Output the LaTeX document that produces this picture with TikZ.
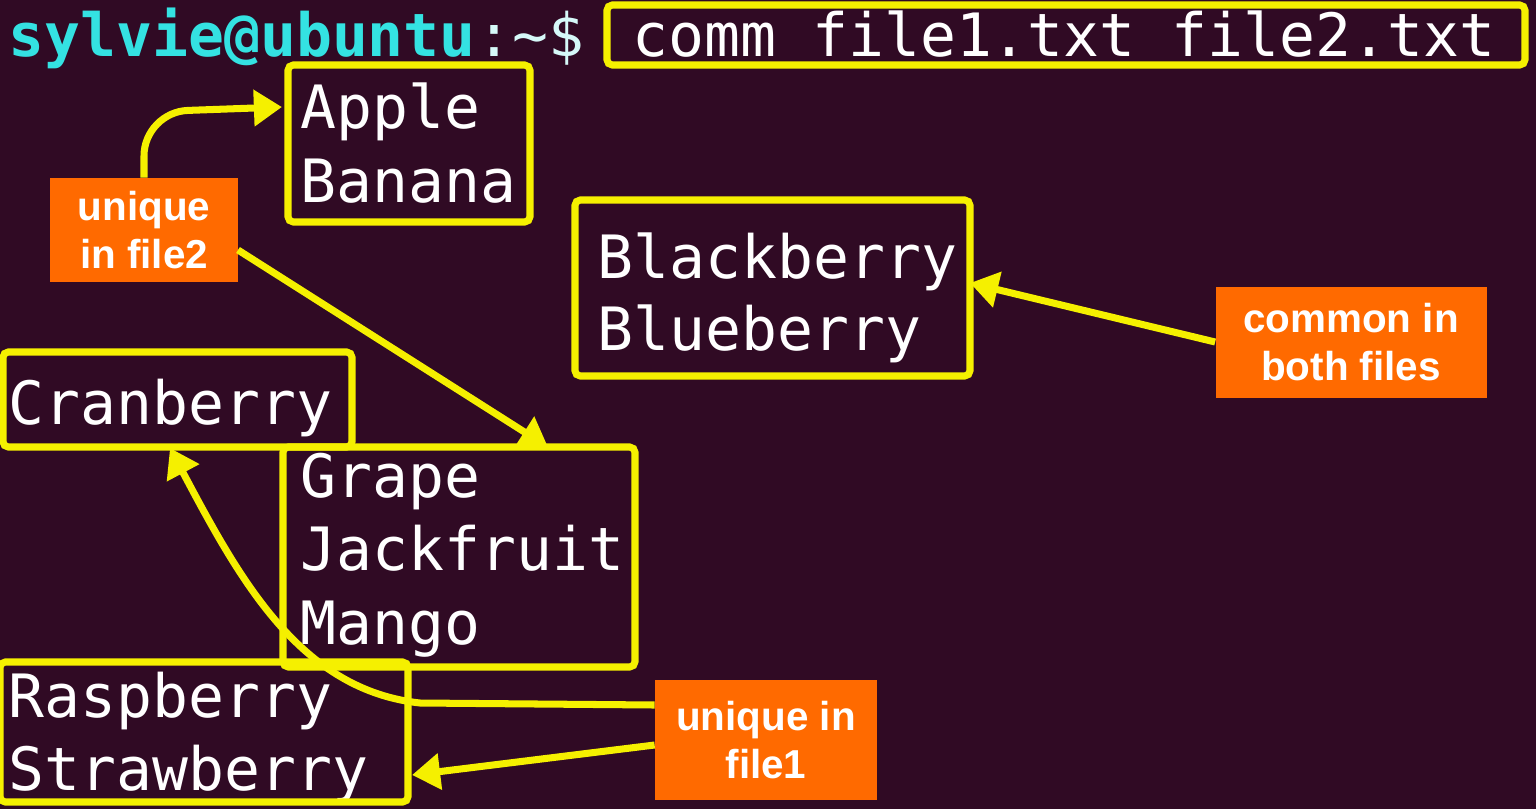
\documentclass[tikz,border=0pt]{standalone}
\usepackage{fontspec}
\setmainfont{Liberation Sans}
\newfontfamily\monof{DejaVu Sans Mono}
\usetikzlibrary{arrows.meta}
\definecolor{bgc}{HTML}{300A24}
\definecolor{yel}{HTML}{F5F000}
\definecolor{org}{HTML}{FF6A00}
\definecolor{cya}{HTML}{34E2E2}
\tikzset{
  term/.style={text=white,font=\monof\fontsize{34}{40}\selectfont,anchor=mid west,inner sep=0pt},
  ybox/.style={draw=yel,line width=4pt,rounded corners=3pt},
  lab/.style={fill=org,text=white,font=\bfseries\fontsize{23}{27}\selectfont,align=center,inner sep=0pt},
  yarr/.style={draw=yel,line width=4pt,-{Triangle[length=16pt,width=20pt]}}
}
\begin{document}
\begin{tikzpicture}[x=0.02cm,y=-0.02cm]
\fill[bgc] (0,0) rectangle (1536,809);
\useasboundingbox (0,0) rectangle (1536,809);
% prompt
\node[term,text=cya,font=\monof\bfseries\fontsize{34}{40}\selectfont] (user) at (8,52) {sylvie@ubuntu};
\node[term,text=white!80!cya] (pr) at (user.mid east) {:\textasciitilde\$};
\node[term] (cmd) at (632,52) {comm file1.txt file2.txt};
\draw[ybox] (607,5) rectangle (1525,65);
% lines
\node[term] (apple) at (300,124) {Apple};
\node[term] (banana) at (300,198) {Banana};
\draw[ybox] (288,65) rectangle (530,222);
\node[term] (black) at (597,274) {Blackberry};
\node[term] (blue) at (597,346) {Blueberry};
\draw[ybox] (575,200) rectangle (970,376);
\node[term] (cran) at (8,420) {Cranberry};
\draw[ybox] (3,352) rectangle (352,447);
\node[term] (grape) at (300,493) {Grape};
\node[term] (jack) at (300,566) {Jackfruit};
\node[term] (mango) at (300,640) {Mango};
\draw[ybox] (283,447) rectangle (635,667);
\node[term] (rasp) at (8,713) {Raspberry};
\node[term] (straw) at (8,786) {Strawberry};
\draw[ybox] (0,662) rectangle (408,802);
% labels
\node[lab,minimum width=188*0.02cm,minimum height=104*0.02cm] (u2) at (144,230) {unique\\in file2};
\node[lab,minimum width=271*0.02cm,minimum height=111*0.02cm] (cb) at (1351,342) {common in\\both files};
\node[lab,minimum width=222*0.02cm,minimum height=120*0.02cm] (u1) at (766,740) {unique in\\file1};
% arrows
\coordinate (a1) at (282,107);
\draw[yarr,rounded corners=25pt] (u2.north) -- (144,112) -- (a1);
\coordinate (a2) at (548,447);
\draw[yarr] (238,250) -- (a2);
\coordinate (a3) at (970,283);
\draw[yarr] (cb.west) -- (a3);
\coordinate (a4) at (170,448);
\draw[yarr] (u1.west |- 0,705) -- (420,703) .. controls (300,690) and (240,580) .. (a4);
\coordinate (a5) at (412,775);
\draw[yarr] (u1.west |- 0,745) -- (a5);
\end{tikzpicture}
\end{document}
